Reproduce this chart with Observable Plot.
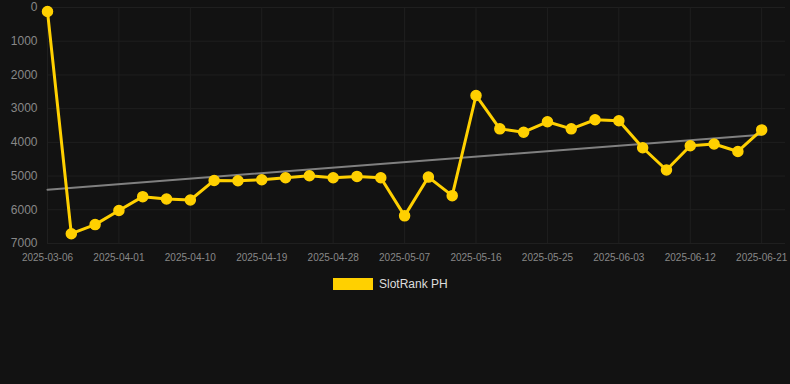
<!DOCTYPE html>
<html>
<head>
<meta charset="utf-8">
<script src="https://cdn.jsdelivr.net/npm/d3@7"></script>
<script src="https://cdn.jsdelivr.net/npm/@observablehq/plot@0.6"></script>
<style>
  html, body { margin: 0; padding: 0; background: #121212; }
  body { width: 790px; height: 384px; overflow: hidden; font-family: "Liberation Sans", Arial, sans-serif; }
  #legend { display: flex; align-items: center; height: 28px; color: #dddddd; font-size: 12px; padding-left: 333px; }
  #legend .sw { width: 40px; height: 12px; background: #ffd000; margin-right: 6px; }
</style>
</head>
<body>
<div id="chart"></div>
<div id="legend"><span class="sw"></span><span>SlotRank PH</span></div>
<script>
const dates = [
  "2025-03-06","2025-03-26","2025-03-29","2025-04-01","2025-04-04","2025-04-07","2025-04-10",
  "2025-04-13","2025-04-16","2025-04-19","2025-04-22","2025-04-25","2025-04-28","2025-05-01",
  "2025-05-04","2025-05-07","2025-05-10","2025-05-13","2025-05-16","2025-05-19","2025-05-22",
  "2025-05-25","2025-05-28","2025-05-31","2025-06-03","2025-06-06","2025-06-09","2025-06-12",
  "2025-06-15","2025-06-18","2025-06-21"
];
const ranks = [
  120, 6710, 6440, 6020, 5610, 5680, 5710,
  5130, 5140, 5110, 5050, 4990, 5050, 5010,
  5050, 6180, 5030, 5580, 2610, 3600, 3700,
  3390, 3600, 3330, 3360, 4160, 4820, 4100,
  4050, 4270, 3630
];
const yTicks = [0, 1000, 2000, 3000, 4000, 5000, 6000, 7000];
const seriesName = "SlotRank PH";

const data = dates.map((d, i) => ({i, date: d, rank: ranks[i]}));
const xTicks = d3.range(0, dates.length, 3);

const chart = Plot.plot({
  width: 790,
  height: 270,
  marginTop: 7,
  marginBottom: 27,
  marginLeft: 47,
  marginRight: 5,
  style: {background: "#121212", color: "#888", fontFamily: "'Liberation Sans', Arial, sans-serif"},
  x: {domain: [0, dates.length], ticks: xTicks, tickFormat: i => dates[i] ?? "", label: null},
  y: {domain: [0, 7000], reverse: true, ticks: yTicks, label: null},
  marks: [
    Plot.gridY(yTicks, {stroke: "#1f1f1f", strokeOpacity: 1}),
    Plot.gridX(xTicks, {stroke: "#1f1f1f", strokeOpacity: 1}),
    Plot.axisY(yTicks, {tickSize: 0, tickPadding: 10, fontSize: 12, fill: "#888", label: null, tickFormat: d => String(d)}),
    Plot.axisX(xTicks, {tickSize: 0, tickPadding: 10, fontSize: 10, fill: "#888", label: null, tickFormat: i => dates[i]}),
    Plot.linearRegressionY(data, {x: "i", y: "rank", ci: 0, stroke: "#808080", strokeWidth: 2}),
    Plot.line(data, {x: "i", y: "rank", stroke: "#ffd000", strokeWidth: 3}),
    Plot.dot(data, {x: "i", y: "rank", r: 5, fill: "#ffd000", stroke: "#ffd000"})
  ]
});
document.getElementById("chart").appendChild(chart);
</script>
</body>
</html>
